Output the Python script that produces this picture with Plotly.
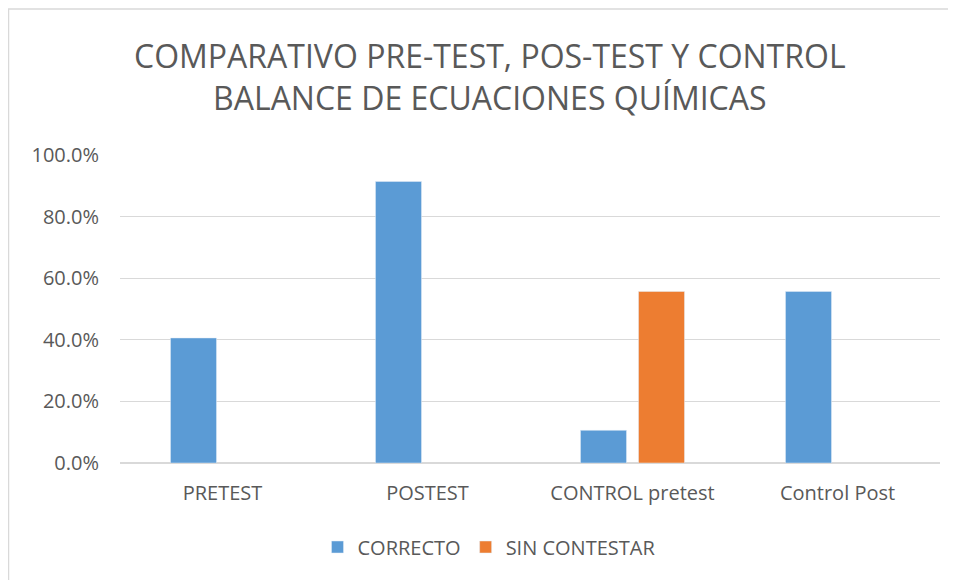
import plotly.graph_objects as go

categories = ["PRETEST", "POSTEST", "CONTROL pretest", "Control Post"]
correcto = [0.406, 0.914, 0.106, 0.557]
sin_contestar = [None, None, 0.557, None]
y_ticks = [0, 0.2, 0.4, 0.6, 0.8, 1.0]
y_tick_labels = ["0.0%", "20.0%", "40.0%", "60.0%", "80.0%", "100.0%"]

FONT = "Open Sans, Lato, sans-serif"
GREY = "#595959"

fig = go.Figure()
fig.add_trace(go.Bar(name="CORRECTO", x=categories, y=correcto, marker_color="#5B9BD5"))
fig.add_trace(go.Bar(name="SIN CONTESTAR", x=categories, y=sin_contestar, marker_color="#ED7D31"))

# page body has an 8px default margin, so the figure is sized to fit the window
W, H = 948, 572
L, R, T, B = 112, 16, 147, 117
pw = W - L - R
ph = H - T - B

def px_y(y):  # local pixel y (from figure top) -> paper y
    return (H - B - y) / ph

def px_x(x):
    return (x - L) / pw

fig.update_layout(
    width=W, height=H,
    margin=dict(l=L, r=R, t=T, b=B, autoexpand=False),
    paper_bgcolor="white", plot_bgcolor="white",
    barmode="group", bargap=0.434, bargroupgap=0.207,
    font=dict(family=FONT, color=GREY, size=20),
    showlegend=True,
    legend=dict(orientation="h", x=px_x(481), xanchor="center", y=px_y(539), yanchor="middle",
                font=dict(size=20, color=GREY), itemwidth=30, traceorder="normal"),
    xaxis=dict(showgrid=False, showline=False, ticks="", tickfont=dict(size=20, color=GREY), ticklabelstandoff=16),
    yaxis=dict(range=[0, 1.0], tickvals=y_ticks, ticktext=y_tick_labels, showgrid=True, gridcolor="#D9D9D9",
               gridwidth=1, zeroline=True, zerolinecolor="#D9D9D9", showline=False, ticks="",
               tickfont=dict(size=20, color=GREY), ticklabelstandoff=20),
)

fig.add_annotation(
    text="COMPARATIVO PRE-TEST, POS-TEST Y CONTROL<br>BALANCE DE ECUACIONES QUÍMICAS",
    xref="paper", yref="paper", x=px_x(482), y=px_y(69), xanchor="center", yanchor="middle",
    showarrow=False, font=dict(family=FONT, size=32, color=GREY), align="center",
)

fig.add_shape(type="rect", xref="paper", yref="paper",
              x0=px_x(0.5), x1=px_x(W + 20), y0=px_y(H + 20), y1=px_y(1),
              line=dict(color="#D9D9D9", width=1.5), fillcolor="rgba(0,0,0,0)", layer="below")

fig.write_html("out.html")
